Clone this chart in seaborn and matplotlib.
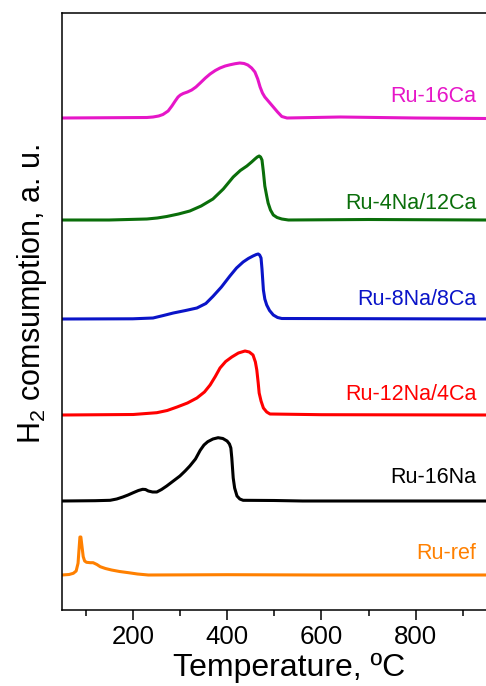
import numpy as np
import pandas as pd
import matplotlib
matplotlib.use("Agg")
import matplotlib.pyplot as plt
import seaborn as sns

# TPR profiles (temperature in °C, signal in a.u. above each baseline)
samples = ["Ru-ref", "Ru-16Na", "Ru-12Na/4Ca", "Ru-8Na/8Ca", "Ru-4Na/12Ca", "Ru-16Ca"]
colors = ["#ff8000", "#000000", "#ff0000", "#0a14c8", "#0a6e0a", "#e616c8"]
offsets = [35, 109, 195, 291, 390, 492]
label_heights = [51, 127, 210, 305, 401, 508]

t_ref = [50, 65, 74, 80, 84, 86, 88, 90, 92, 95, 98, 102, 110, 116, 124, 131, 142, 155,
         172, 191, 210, 233, 400, 600, 800, 950]
s_ref = [0, 0.5, 1.7, 4, 11.7, 25, 38, 38, 30, 18.3, 14, 12.7, 12.3, 12.3, 10.5, 8.3, 6.5, 5,
         3.5, 2.3, 1, 0, 0.3, 0, 0, 0]

t_16na = [50, 120, 152, 166, 179, 190, 201, 212, 221, 227, 233, 242, 251, 261, 272, 286,
          300, 311, 321, 333, 343, 351, 359, 370, 381, 391, 400, 405, 408, 410, 413, 416,
          421, 427, 434, 500, 560, 700, 950]
s_16na = [0, 0.3, 0.7, 2, 4, 6, 8.3, 10.5, 11.7, 11.5, 10, 9, 9, 11.5, 15, 20,
          25, 30, 35, 42, 50.7, 56, 59.3, 62, 63.3, 62.5, 60, 57, 53, 43, 23, 13,
          5, 2, 0.7, 0.5, 0, 0, 0]

t_12na = [50, 201, 251, 273, 294, 316, 336, 352, 364, 375, 385, 397, 410, 424, 438, 447,
          455, 460, 463, 466, 468, 472, 477, 484, 491, 600, 950]
s_12na = [0, 0.5, 2.3, 4.5, 8, 12, 17, 23, 30, 38.5, 47, 53.5, 58, 62, 64, 63,
          60, 53, 45, 32, 22, 14, 7, 3, 1, 0.3, 0]

t_8na = [50, 200, 243, 265, 286, 312, 336, 355, 370, 388, 406, 420, 434, 445, 455, 462,
         466, 469, 472, 474, 477, 480, 484, 490, 498, 507, 516, 700, 950]
s_8na = [0, 0.2, 1, 3.5, 6, 8.5, 11, 15.5, 22.6, 32, 43, 51, 57, 60.5, 63, 64.5,
         65, 64, 61, 50, 29, 20, 14, 8.5, 4, 1.5, 0.5, 0.3, 0]

t_4na = [50, 150, 230, 252, 272, 297, 321, 345, 370, 392, 413, 428, 442, 452, 459, 464,
         468, 471, 474, 477, 480, 484, 487, 492, 498, 506, 516, 530, 700, 950]
s_4na = [0, 0, 1, 2, 3.5, 6, 9, 14, 21, 31, 43, 49.5, 54, 58, 61, 63,
         64, 63, 60, 48, 34, 24, 17, 10, 5, 2.5, 1, 0, 0.5, 0]

t_16ca = [50, 230, 243, 255, 264, 275, 283, 290, 296, 301, 307, 316, 325, 334, 343, 354,
          364, 375, 385, 396, 406, 417, 427, 436, 444, 452, 459, 465, 470, 475, 480, 489,
          498, 507, 516, 527, 640, 800, 950]
s_16ca = [0, 0.5, 1, 2, 3.5, 7, 12, 17, 21, 23, 24.5, 26, 28, 31, 35, 40,
          44, 47.5, 50, 52, 53.2, 54.3, 55, 54.5, 53, 50, 46, 39, 31, 25, 21, 16,
          11, 6, 1.5, 0, 1, 0, -0.5]

temps = [t_ref, t_16na, t_12na, t_8na, t_4na, t_16ca]
signals = [s_ref, s_16na, s_12na, s_8na, s_4na, s_16ca]

# Build a long table, shifting each profile by its baseline
frames = []
for name, t, s, off in zip(samples, temps, signals, offsets):
    frames.append(pd.DataFrame({"T": t, "signal": np.array(s) + off, "sample": name}))
df = pd.concat(frames, ignore_index=True)

sns.set_style("ticks")
plt.rcParams["font.family"] = ["Liberation Sans", "DejaVu Sans"]
plt.rcParams["mathtext.default"] = "regular"
for key in ["text.color", "axes.labelcolor", "xtick.color", "ytick.color", "axes.edgecolor"]:
    plt.rcParams[key] = "black"

fig = plt.figure(figsize=(4.86, 6.86), dpi=100)
ax = fig.add_axes([62 / 486, 76 / 686, 424.5 / 486, 597 / 686])

sns.lineplot(data=df, x="T", y="signal", hue="sample", palette=dict(zip(samples, colors)),
             estimator=None, sort=False, linewidth=2.2, legend=False, ax=ax,
             solid_joinstyle="round", solid_capstyle="round")

for name, col, h in zip(samples, colors, label_heights):
    ax.text(929, h, name, color=col, fontsize=15.5, ha="right", va="baseline")

ax.set_xlim(50, 950)
ax.set_ylim(0, 597)
ax.set_yticks([])
ax.set_xticks([200, 400, 600, 800])
ax.set_xticks([100, 300, 500, 700, 900], minor=True)
ax.tick_params(axis="x", which="major", length=7, width=1.1, labelsize=18.6, pad=4)
ax.tick_params(axis="x", which="minor", length=4, width=1.1)
for side in ["left", "top", "bottom"]:
    ax.spines[side].set_linewidth(1.1)
ax.spines["right"].set_visible(False)

ax.set_xlabel("Temperature, ºC", fontsize=23)
ax.xaxis.set_label_coords(0.535, -0.072)
ax.set_ylabel("H$_2$ comsumption, a. u.", fontsize=22)
ax.yaxis.set_label_coords(-0.03, 0.53)

fig.savefig("out.png", dpi=100)
